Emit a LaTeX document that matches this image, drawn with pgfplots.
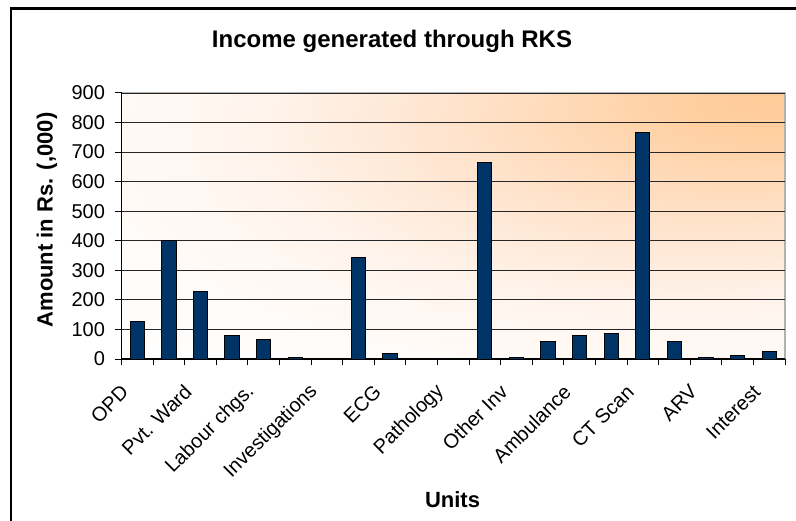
\documentclass[border=0pt]{standalone}
\usepackage{fontspec}
\setmainfont{Liberation Sans}
\usepackage{pgfplots}
\pgfplotsset{compat=1.18}
\definecolor{barnavy}{HTML}{003366}
\definecolor{sA}{HTML}{FFCB98}
\definecolor{sB}{HTML}{FFCFA0}
\definecolor{sC}{HTML}{FFD8B4}
\definecolor{sD}{HTML}{FFE6D2}
\definecolor{sE}{HTML}{FFF4EC}
\definecolor{sF}{HTML}{FFFBF8}
\pgfdeclareradialshading{bgshade}{\pgfpoint{25bp}{25bp}}{color(0bp)=(sA); color(6bp)=(sB); color(12bp)=(sC); color(22bp)=(sD); color(32bp)=(sE); color(42bp)=(sF); color(52bp)=(white); color(100bp)=(white)}
\begin{document}
\begin{tikzpicture}
\useasboundingbox (0,0) rectangle (796bp,521bp);
\fill[white] (0,0) rectangle (796bp,521bp);
\draw[line width=2.5bp] (11bp,0) -- (11bp,512.3bp) -- (796bp,512.3bp);
\node[anchor=base, font=\fontsize{24bp}{28bp}\selectfont\bfseries] at (392bp,473.7bp) {Income generated through RKS};
\begin{axis}[
  at={(121.5bp,162bp)}, anchor=south west,
  scale only axis, width=663.5bp, height=266bp,
  xmin=0, xmax=21, ymin=0, ymax=900,
  ytick={0,100,...,900},
  xtick={0.5,2.5,...,20.5},
  xticklabels={OPD,Pvt. Ward,Labour chgs.,Investigations,ECG,Pathology,Other Inv,Ambulance,CT Scan,ARV,Interest},
  minor xtick={0,1,...,21},
  axis x line*=bottom, axis y line*=left,
  axis line style={black, line width=1.2bp, -},
  tick align=outside,
  major tick length=6bp, minor tick length=6bp,
  tick style={black, line width=1bp},
  major x tick style={draw=none},
  ymajorgrids,
  major grid style={black!85, line width=0.8bp},
  axis background/.style={shade, shading=bgshade, draw=gray!60, line width=1.5bp},
  /pgf/number format/assume math mode=true,
  yticklabel style={font=\fontsize{20bp}{24bp}\selectfont, xshift=-7bp},
  xticklabel style={font=\fontsize{20bp}{24bp}\selectfont, xshift=-10bp, yshift=-21bp, rotate=45, anchor=east},
  xlabel={\textbf{Units}},
  ylabel={\textbf{Amount in Rs. (,000)}},
  label style={font=\fontsize{22bp}{26bp}\selectfont},
  xlabel style={at={(axis description cs:0.4989,-0.5575)}, anchor=base},
  ylabel style={at={(axis description cs:-0.1123,0.5226)}, anchor=center},
]
\addplot[ybar, bar width=0.45, bar shift=0pt, fill=barnavy, draw=black, line width=1bp]
  coordinates {(0.5,128) (1.5,400) (2.5,230) (3.5,80) (4.5,67) (5.5,5) (6.5,0) (7.5,345) (8.5,20) (9.5,0) (10.5,0) (11.5,664) (12.5,5) (13.5,60) (14.5,80) (15.5,87) (16.5,765) (17.5,60) (18.5,5) (19.5,12) (20.5,26)};
\end{axis}
\end{tikzpicture}
\end{document}
